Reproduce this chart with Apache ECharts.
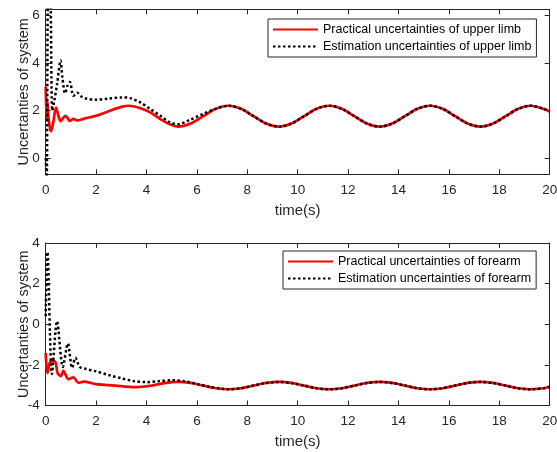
<!DOCTYPE html>
<html>
<head>
<meta charset="utf-8">
<script src="https://cdn.jsdelivr.net/npm/echarts@6/dist/echarts.min.js"></script>
<style>
html,body{margin:0;padding:0;background:#fff;}
#chartmain{width:557px;height:452px;}
</style>
</head>
<body>
<div id="chartmain"></div>
<script>
// 上肢 (upper limb) — [t, value]
var upperPractical = [
  [0,3.0],[0.03,1.7],[0.06,2.4],[0.12,1.6],[0.21,1.12],[0.3,1.5],[0.41,2.12],[0.5,1.8],[0.59,1.55],
  [0.69,1.68],[0.79,1.78],[0.96,1.56],[1.1,1.65],[1.25,1.58],[1.5,1.65],[2,1.78],[2.5,1.97],
  [3,2.15],[3.3,2.2],[3.75,2.1],[4.15,1.92],[4.55,1.64],[4.93,1.42],[5.25,1.32],[5.75,1.45],
  [6.25,1.76],[6.75,2.07],[7.25,2.2],[7.75,2.07],[8.25,1.76],[8.75,1.45],[9.25,1.32],[9.75,1.45],
  [10.25,1.76],[10.75,2.07],[11.25,2.2],[11.75,2.07],[12.25,1.76],[12.75,1.45],[13.25,1.32],
  [13.75,1.45],[14.25,1.76],[14.75,2.07],[15.25,2.2],[15.75,2.07],[16.25,1.76],[16.75,1.45],
  [17.25,1.32],[17.75,1.45],[18.25,1.76],[18.75,2.07],[19.25,2.2],[19.75,2.07],[20,1.96]
];
var upperEstimation = [
  [0,0],[0.04,-0.8],[0.1,7.5],[0.17,7.5],[0.26,2.0],[0.33,2.35],[0.45,3.1],[0.59,4.1],[0.66,3.4],
  [0.77,2.72],[0.87,3.05],[0.96,3.2],[1.1,2.62],[1.25,2.75],[1.4,2.6],[1.6,2.5],[2,2.45],[2.5,2.5],
  [3,2.55],[3.35,2.52],[3.75,2.34],[4.15,2.06],[4.55,1.78],[4.95,1.49],[5.25,1.42],[5.75,1.62],
  [6.25,1.86],[6.75,2.07],[7.25,2.2],[7.75,2.07],[8.25,1.76],[8.75,1.45],[9.25,1.32],[9.75,1.45],
  [10.25,1.76],[10.75,2.07],[11.25,2.2],[11.75,2.07],[12.25,1.76],[12.75,1.45],[13.25,1.32],
  [13.75,1.45],[14.25,1.76],[14.75,2.07],[15.25,2.2],[15.75,2.07],[16.25,1.76],[16.75,1.45],
  [17.25,1.32],[17.75,1.45],[18.25,1.76],[18.75,2.07],[19.25,2.2],[19.75,2.07],[20,1.96]
];
// 前臂 (forearm)
var forearmPractical = [
  [0,-1.42],[0.07,-2.4],[0.2,-1.82],[0.38,-1.85],[0.47,-2.4],[0.6,-2.55],[0.7,-2.3],[0.9,-2.7],
  [1.1,-2.62],[1.3,-2.88],[1.5,-2.82],[2,-2.95],[2.5,-3.0],[3,-3.05],[3.6,-3.1],[4.2,-3.02],
  [4.7,-2.9],[5.25,-2.84],[5.75,-2.89],[6.25,-3.02],[6.75,-3.15],[7.25,-3.2],[7.75,-3.15],
  [8.25,-3.02],[8.75,-2.89],[9.25,-2.84],[9.75,-2.89],[10.25,-3.02],[10.75,-3.15],[11.25,-3.2],
  [11.75,-3.15],[12.25,-3.02],[12.75,-2.89],[13.25,-2.84],[13.75,-2.89],[14.25,-3.02],
  [14.75,-3.15],[15.25,-3.2],[15.75,-3.15],[16.25,-3.02],[16.75,-2.89],[17.25,-2.84],
  [17.75,-2.89],[18.25,-3.02],[18.75,-3.15],[19.25,-3.2],[19.75,-3.15],[20,-3.08]
];
var forearmEstimation = [
  [0,0.4],[0.07,3.55],[0.25,-2.45],[0.45,0.15],[0.68,-2.1],[0.88,-0.95],[1.05,-2.15],[1.18,-1.65],
  [1.35,-2.1],[1.6,-2.2],[2,-2.32],[2.5,-2.5],[3,-2.66],[3.5,-2.8],[4,-2.85],[4.5,-2.8],
  [5,-2.76],[5.5,-2.8],[6,-2.94],[6.5,-3.08],[7,-3.17],[7.25,-3.2],[7.75,-3.15],
  [8.25,-3.02],[8.75,-2.89],[9.25,-2.84],[9.75,-2.89],[10.25,-3.02],[10.75,-3.15],[11.25,-3.2],
  [11.75,-3.15],[12.25,-3.02],[12.75,-2.89],[13.25,-2.84],[13.75,-2.89],[14.25,-3.02],
  [14.75,-3.15],[15.25,-3.2],[15.75,-3.15],[16.25,-3.02],[16.75,-2.89],[17.25,-2.84],
  [17.75,-2.89],[18.25,-3.02],[18.75,-3.15],[19.25,-3.2],[19.75,-3.15],[20,-3.08]
];
var upperNames = ['Practical uncertainties of upper limb','Estimation uncertainties of upper limb'];
var forearmNames = ['Practical uncertainties of forearm','Estimation uncertainties of forearm'];
var upperTicks = [0,2,4,6];
var forearmTicks = [-4,-2,0,2,4];

var FONT = 'Liberation Sans';
var AX = '#262626';

function mainX(grid){
    return {
        type:'value', gridIndex:grid, min:0, max:20, interval:2,
        name:'time(s)', nameLocation:'middle', nameGap:29,
        nameTextStyle:{color:AX,fontFamily:FONT,fontSize:15},
        axisLine:{onZero:false,lineStyle:{color:AX,width:1}},
        axisTick:{inside:true,length:5,lineStyle:{color:AX}},
        axisLabel:{color:AX,fontFamily:FONT,fontSize:13.5,margin:9},
        splitLine:{show:false}
    };
}
function mirrorX(grid){
    return {
        type:'value', gridIndex:grid, position:'top', min:0, max:20, interval:2,
        axisLine:{onZero:false,lineStyle:{color:AX,width:1}},
        axisTick:{inside:true,length:5,lineStyle:{color:AX}},
        axisLabel:{show:false}, splitLine:{show:false}
    };
}
function mainY(grid,min,max,ticks){
    return {
        type:'value', gridIndex:grid, min:min, max:max,
        name:'Uncertanties of system', nameLocation:'middle', nameGap:14, nameMoveOverlap:false,
        nameTextStyle:{color:AX,fontFamily:FONT,fontSize:14.5},
        axisLine:{onZero:false,lineStyle:{color:AX,width:1}},
        axisTick:{inside:true,length:5,customValues:ticks,lineStyle:{color:AX}},
        axisLabel:{color:AX,fontFamily:FONT,fontSize:13.5,margin:6,customValues:ticks},
        splitLine:{show:false}
    };
}
function mirrorY(grid,min,max,ticks){
    return {
        type:'value', gridIndex:grid, position:'right', min:min, max:max,
        axisLine:{onZero:false,lineStyle:{color:AX,width:1}},
        axisTick:{inside:true,length:5,customValues:ticks,lineStyle:{color:AX}},
        axisLabel:{show:false,customValues:ticks}, splitLine:{show:false}
    };
}
function practical(name,x,y,data){
    return {name:name,type:'line',xAxisIndex:x,yAxisIndex:y,data:data,smooth:0.3,
        symbol:'none',lineStyle:{color:'#ff0000',width:2.7},itemStyle:{color:'#ff0000'},z:2};
}
function estimation(name,x,y,data){
    return {name:name,type:'line',xAxisIndex:x,yAxisIndex:y,data:data,smooth:0.3,
        symbol:'none',lineStyle:{color:'#000000',width:2.5,type:[2.5,2.5]},itemStyle:{color:'#000000'},z:3};
}
function legendBox(names,left,top){
    return {
        data:names, orient:'vertical', left:left, top:top,
        itemStyle:{opacity:0},
        backgroundColor:'#fff', borderColor:'#262626', borderWidth:1, borderRadius:0,
        padding:[4,5,4,4], itemGap:4, itemWidth:45, itemHeight:13,
        textStyle:{color:'#000',fontFamily:FONT,fontSize:12.5}, selectedMode:false
    };
}

var option = {
    animation:false,
    backgroundColor:'#fff',
    grid:[
        {left:45.7,right:7.3,top:9.3,height:165,outerBoundsMode:'none'},
        {left:45.7,right:7.3,top:243,height:162.5,outerBoundsMode:'none'}
    ],
    xAxis:[mainX(0),mirrorX(0),mainX(1),mirrorX(1)],
    yAxis:[mainY(0,-0.68,6.25,upperTicks),mirrorY(0,-0.68,6.25,upperTicks),
           mainY(1,-4,4,forearmTicks),mirrorY(1,-4,4,forearmTicks)],
    legend:[legendBox(upperNames,268,19),legendBox(forearmNames,283,251)],
    series:[
        practical(upperNames[0],0,0,upperPractical),
        estimation(upperNames[1],0,0,upperEstimation),
        practical(forearmNames[0],2,2,forearmPractical),
        estimation(forearmNames[1],2,2,forearmEstimation)
    ]
};
var myChart = echarts.init(document.getElementById('chartmain'));
myChart.setOption(option);
</script>
</body>
</html>
